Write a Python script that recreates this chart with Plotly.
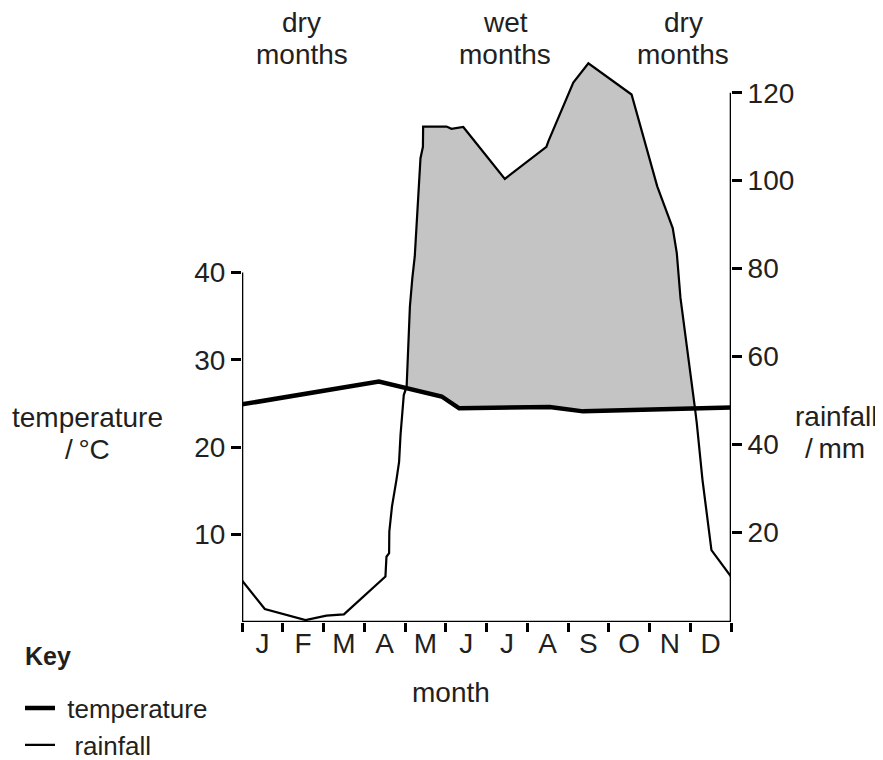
import numpy as np
import plotly.graph_objects as go

# ---------------- data ----------------
months = ["J", "F", "M", "A", "M", "J", "J", "A", "S", "O", "N", "D"]

# temperature line: position along the month axis (0 = start of Jan, 12 = end of Dec), °C
temp_x = [0.0, 3.36, 4.9, 5.33, 7.55, 8.37, 12.0]
temp_c = [24.9, 27.5, 25.8, 24.45, 24.6, 24.1, 24.55]

# rainfall line: position along the month axis, mm
rain_x = [0.0, 0.56, 1.56, 2.07, 2.50, 3.52, 3.545, 3.61, 3.615, 3.68, 3.79,
          3.855, 3.89, 3.94, 3.97, 4.04, 4.12, 4.18, 4.24, 4.38, 4.44, 4.445,
          5.02, 5.14, 5.43, 6.45, 7.47, 7.52, 8.13, 8.50, 9.56, 10.19, 10.57,
          10.67, 10.76, 11.11, 11.16, 11.30, 11.52, 12.0]
rain_mm = [9.0, 2.5, 0.0, 1.0, 1.3, 9.9, 14.4, 15.2, 20.1, 25.8, 31.9,
           36.0, 42.1, 47.0, 51.2, 53.1, 71.3, 77.8, 82.8, 105.1, 107.7, 112.3,
           112.3, 111.8, 112.2, 100.4, 107.7, 109.0, 122.3, 126.7, 119.6, 98.7, 89.2,
           83.5, 73.3, 48.6, 44.8, 31.9, 15.9, 9.9]

temp_ticks = [10, 20, 30, 40]
rain_ticks = [20, 40, 60, 80, 100, 120]

# ---------------- layout constants ----------------
OFF = 8                      # page body margin of the html page
W, H = 883 - OFF, 760 - OFF
PL, PR, PT, PB = 242 - OFF, 731 - OFF, 60 - OFF, 622 - OFF
T_RANGE = [0, 64.3]
R_RANGE = [-0.45, 127.45]
FONT = "Liberation Sans, Arial, Helvetica, sans-serif"
TXT = "#231f20"
FS = 28


def pxx(px):
    return (px - OFF - PL) / (PR - PL)


def pxy(py):
    return (PB - (py - OFF)) / (PB - PT)


def rain_to_temp(r):
    r = np.asarray(r, dtype=float)
    return T_RANGE[0] + (r - R_RANGE[0]) * (T_RANGE[1] - T_RANGE[0]) / (R_RANGE[1] - R_RANGE[0])


# ---------- shaded region (rainfall above temperature, in temperature-axis units) ----------
rx = np.array(rain_x, dtype=float)
ry_t = rain_to_temp(rain_mm)
f = ry_t - np.interp(rx, temp_x, temp_c)
crossings = []
for i in range(len(rx) - 1):
    if f[i] * f[i + 1] < 0:
        t = f[i] / (f[i] - f[i + 1])
        cx = rx[i] + t * (rx[i + 1] - rx[i])
        crossings.append(cx)
c1, c2 = crossings[0], crossings[-1]
poly_x = [c1]
poly_y = [float(np.interp(c1, temp_x, temp_c))]
for xv, yv, fv in zip(rx, ry_t, f):
    if c1 < xv < c2 and fv > 0:
        poly_x.append(float(xv))
        poly_y.append(float(yv))
poly_x.append(c2)
poly_y.append(float(np.interp(c2, temp_x, temp_c)))
for xv, yv in zip(temp_x[::-1], temp_c[::-1]):
    if c1 < xv < c2:
        poly_x.append(xv)
        poly_y.append(yv)
poly_x.append(c1)
poly_y.append(poly_y[0])

fig = go.Figure()
fig.add_trace(go.Scatter(x=poly_x, y=poly_y, mode="lines", fill="toself",
                         fillcolor="#c4c4c4", line=dict(width=0, color="#c4c4c4"),
                         showlegend=False, hoverinfo="skip", yaxis="y"))
fig.add_trace(go.Scatter(x=temp_x, y=temp_c, mode="lines", name="\u00a0temperature",
                         line=dict(color="black", width=4.5), yaxis="y"))
fig.add_trace(go.Scatter(x=rain_x, y=rain_mm, mode="lines", name="\u00a0\u00a0rainfall",
                         line=dict(color="black", width=2.2), yaxis="y2"))

# axis lines as shapes (left axis only to 40, right axis only to 120)
LW = 2.6
shapes = [
    dict(type="line", xref="x", yref="y", x0=0, x1=0, y0=0, y1=temp_ticks[-1],
         line=dict(color="black", width=LW)),
    dict(type="line", xref="x", yref="y2", x0=12, x1=12, y0=R_RANGE[0], y1=rain_ticks[-1],
         line=dict(color="black", width=LW)),
    dict(type="line", xref="x", yref="y", x0=-0.26, x1=12.3, y0=0, y1=0,
         line=dict(color="black", width=LW)),
]

ann = []


def text(s, x, y, size=FS, xanchor="center", bold=False):
    ann.append(dict(text=("<b>%s</b>" % s) if bold else s, xref="paper", yref="paper",
                    x=pxx(x), y=pxy(y), xanchor=xanchor, yanchor="middle",
                    showarrow=False, font=dict(size=size, family=FONT, color=TXT)))


text("dry", 301.5, 22)
text("months", 301.5, 55)
text("wet", 505, 22)
text("months", 505, 55)
text("dry", 683, 22)
text("months", 683, 55)
text("temperature", 87.5, 417)
text("/\u2009°C", 87.5, 449.5)
text("rainfall", 836, 416)
text("/\u2009mm", 835, 448)
text("month", 451, 692)
text("Key", 23, 656, size=25, xanchor="left", bold=True)

fig.update_layout(
    width=W, height=H,
    margin=dict(l=PL, r=W - PR, t=PT, b=H - PB, pad=0, autoexpand=False),
    paper_bgcolor="white", plot_bgcolor="white",
    font=dict(family=FONT, size=FS, color=TXT),
    shapes=shapes, annotations=ann,
    xaxis=dict(range=[0, 12], tickmode="array", tickvals=[i + 0.5 for i in range(12)],
               ticktext=months, ticks="", showline=False, showgrid=False, zeroline=False,
               tickfont=dict(size=FS, family=FONT, color=TXT), ticklabelstandoff=2,
               automargin=False,
               minor=dict(tickmode="array", tickvals=list(range(13)), ticks="outside",
                          ticklen=9, tickwidth=LW, tickcolor="black", showgrid=False)),
    yaxis=dict(range=T_RANGE, tickmode="array", tickvals=temp_ticks, ticks="outside",
               ticklen=10, tickwidth=LW, tickcolor="black", showline=False,
               showgrid=False, zeroline=False, automargin=False,
               tickfont=dict(size=FS, family=FONT, color=TXT)),
    yaxis2=dict(range=R_RANGE, overlaying="y", side="right", tickmode="array",
                tickvals=rain_ticks, ticks="outside", ticklen=10, tickwidth=LW,
                tickcolor="black", showline=False, showgrid=False, zeroline=False,
                automargin=False, tickfont=dict(size=FS, family=FONT, color=TXT)),
    legend=dict(x=pxx(20), y=pxy(684.6), xanchor="left", yanchor="top",
                font=dict(size=26, family=FONT, color=TXT), bgcolor="rgba(0,0,0,0)",
                borderwidth=0, tracegroupgap=0),
    showlegend=True,
)

fig.write_html("out.html")
